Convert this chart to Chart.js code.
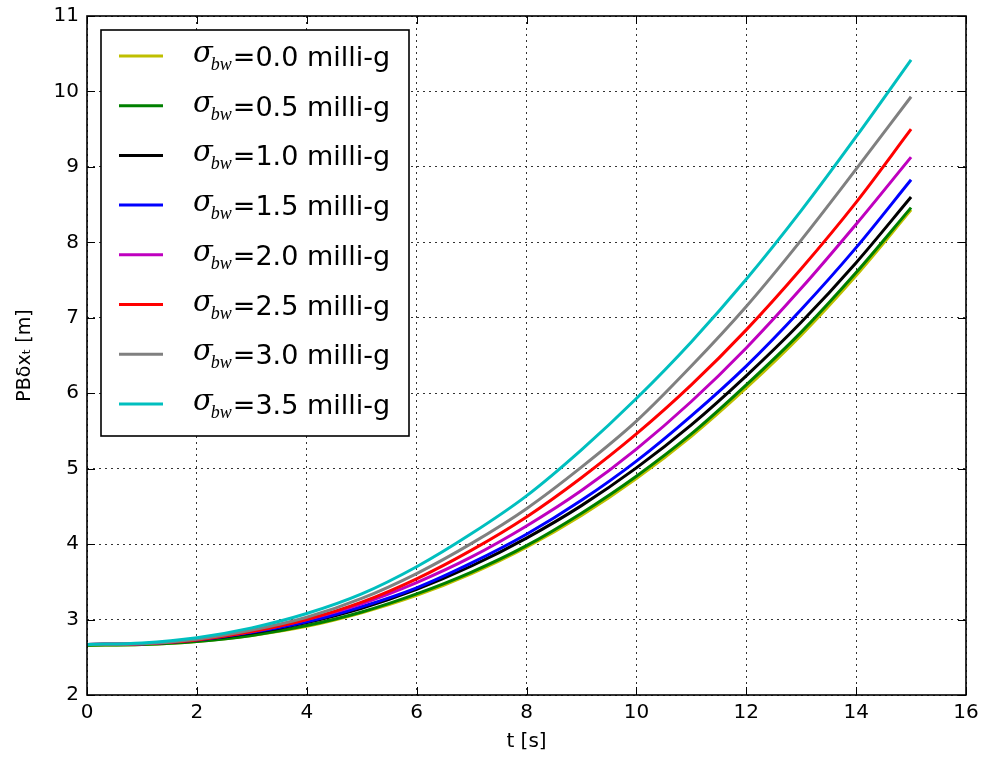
<!DOCTYPE html>
<html>
<head>
<meta charset="utf-8">
<script src="https://cdn.jsdelivr.net/npm/chart.js@4.4.1/dist/chart.umd.min.js"></script>
<style>
  html, body { margin: 0; padding: 0; background: #fff; }
  canvas { display: block; }
</style>
</head>
<body>
<canvas id="chart" width="982" height="760"></canvas>
<script>
// time axis [s]
const times = [0, 1, 2, 3, 4, 5, 6, 7, 8, 9, 10, 11, 12, 13, 14, 15];

// sigma_bw values (milli-g) and PB delta x_t [m]
const sigmas = ["0.0", "0.5", "1.0", "1.5", "2.0", "2.5", "3.0", "3.5"];
const colors = ["#bfbf00", "#008000", "#000000", "#0000ff", "#bf00bf", "#ff0000", "#808080", "#00bfbf"];

const pb00 = [2.66, 2.67, 2.71, 2.79, 2.91, 3.09, 3.32, 3.61, 3.96, 4.38, 4.87, 5.43, 6.07, 6.77, 7.56, 8.43];
const pb05 = [2.66, 2.67, 2.71, 2.79, 2.92, 3.10, 3.34, 3.63, 3.98, 4.41, 4.90, 5.46, 6.11, 6.81, 7.60, 8.46];
const pb10 = [2.67, 2.68, 2.73, 2.82, 2.96, 3.15, 3.40, 3.71, 4.08, 4.51, 5.01, 5.58, 6.23, 6.94, 7.73, 8.60];
const pb15 = [2.67, 2.68, 2.73, 2.83, 2.97, 3.17, 3.42, 3.75, 4.13, 4.58, 5.10, 5.70, 6.36, 7.11, 7.93, 8.83];
const pb20 = [2.67, 2.68, 2.74, 2.84, 3.00, 3.21, 3.49, 3.83, 4.24, 4.71, 5.26, 5.89, 6.60, 7.39, 8.24, 9.13];
const pb25 = [2.67, 2.68, 2.73, 2.84, 3.00, 3.23, 3.54, 3.92, 4.36, 4.88, 5.46, 6.11, 6.84, 7.65, 8.53, 9.50];
const pb30 = [2.67, 2.68, 2.74, 2.86, 3.03, 3.28, 3.61, 4.01, 4.47, 5.02, 5.63, 6.36, 7.15, 8.03, 8.97, 9.93];
const pb35 = [2.67, 2.69, 2.76, 2.89, 3.08, 3.34, 3.70, 4.14, 4.64, 5.25, 5.93, 6.68, 7.51, 8.42, 9.40, 10.42];
const series = [pb00, pb05, pb10, pb15, pb20, pb25, pb30, pb35];

const xTicks = [0, 2, 4, 6, 8, 10, 12, 14, 16];
const yTicks = [2, 3, 4, 5, 6, 7, 8, 9, 10, 11];

const FONT = "'DejaVu Sans', sans-serif";

// matplotlib-like frame, inward ticks on all four sides, and the legend box
const framePlugin = {
  id: "frame",
  afterDraw(chart) {
    const { ctx, chartArea: a, scales } = chart;
    ctx.save();
    ctx.strokeStyle = "#000";
    ctx.lineWidth = 1;
    const tl = 8;
    xTicks.forEach(v => {
      const px = Math.round(scales.x.getPixelForValue(v)) + 0.5;
      ctx.beginPath();
      ctx.moveTo(px, a.bottom); ctx.lineTo(px, a.bottom - tl);
      ctx.moveTo(px, a.top); ctx.lineTo(px, a.top + tl);
      ctx.stroke();
    });
    yTicks.forEach(v => {
      const py = Math.round(scales.y.getPixelForValue(v)) + 0.5;
      ctx.beginPath();
      ctx.moveTo(a.left, py); ctx.lineTo(a.left + tl, py);
      ctx.moveTo(a.right, py); ctx.lineTo(a.right - tl, py);
      ctx.stroke();
    });
    ctx.lineWidth = 1.6;
    ctx.strokeRect(a.left, a.top, a.right - a.left, a.bottom - a.top);

    // legend
    const bx = a.left + 14, by = a.top + 14, bw = 308, bh = 406;
    ctx.fillStyle = "#fff";
    ctx.fillRect(bx, by, bw, bh);
    ctx.lineWidth = 1.6;
    ctx.strokeRect(bx, by, bw, bh);
    sigmas.forEach((s, i) => {
      const y = by + 26 + i * 49.7;
      ctx.strokeStyle = colors[i];
      ctx.lineWidth = 3;
      ctx.beginPath();
      ctx.moveTo(bx + 18, y); ctx.lineTo(bx + 62, y);
      ctx.stroke();
      ctx.fillStyle = "#000";
      ctx.textBaseline = "alphabetic";
      let tx = bx + 92;
      ctx.font = "italic 29px 'DejaVu Serif', serif";
      ctx.fillText("σ", tx, y + 6);
      tx += ctx.measureText("σ").width - 2;
      ctx.font = "italic 18px 'Liberation Serif', serif";
      ctx.fillText("bw", tx, y + 14);
      tx += ctx.measureText("bw").width + 1;
      ctx.font = "27px " + FONT;
      ctx.fillText("=" + s + " milli-g", tx, y + 10);
    });
    ctx.restore();
  }
};

const datasets = series.map((vals, i) => ({
  label: "σbw=" + sigmas[i] + " milli-g",
  data: times.map((t, j) => ({ x: t, y: vals[j] })),
  borderColor: colors[i],
  backgroundColor: colors[i],
  borderWidth: 3,
  pointRadius: 0,
  fill: false,
  cubicInterpolationMode: "monotone",
  order: series.length - i
}));

new Chart(document.getElementById("chart"), {
  type: "line",
  data: { datasets },
  options: {
    responsive: false,
    animation: false,
    devicePixelRatio: 1,
    layout: { padding: { top: 16, right: 16, left: 0, bottom: 0 } },
    plugins: {
      legend: { display: false },
      tooltip: { enabled: false }
    },
    scales: {
      x: {
        type: "linear",
        min: 0, max: 16,
        afterBuildTicks: s => { s.ticks = xTicks.map(v => ({ value: v })); },
        afterFit: s => { s.height = 65; s.paddingLeft = 0; s.paddingRight = 0; },
        ticks: { color: "#000", font: { family: FONT, size: 20 }, padding: 6, maxRotation: 0 },
        grid: { color: "#333", lineWidth: 1, drawTicks: false },
        border: { display: false, dash: [2, 4] },
        title: { display: true, text: "t [s]", color: "#000", font: { family: FONT, size: 20 }, padding: { top: 0, bottom: 6 } }
      },
      y: {
        min: 2, max: 11,
        afterBuildTicks: s => { s.ticks = yTicks.map(v => ({ value: v })); },
        afterFit: s => { s.width = 87; s.paddingTop = 0; s.paddingBottom = 0; },
        ticks: { color: "#000", font: { family: FONT, size: 20 }, padding: 8 },
        grid: { color: "#333", lineWidth: 1, drawTicks: false },
        border: { display: false, dash: [2, 4] },
        title: { display: true, text: "PBδxₜ [m]", color: "#000", font: { family: FONT, size: 19 }, padding: { top: 14, bottom: 0 } }
      }
    }
  },
  plugins: [framePlugin]
});
</script>
</body>
</html>
